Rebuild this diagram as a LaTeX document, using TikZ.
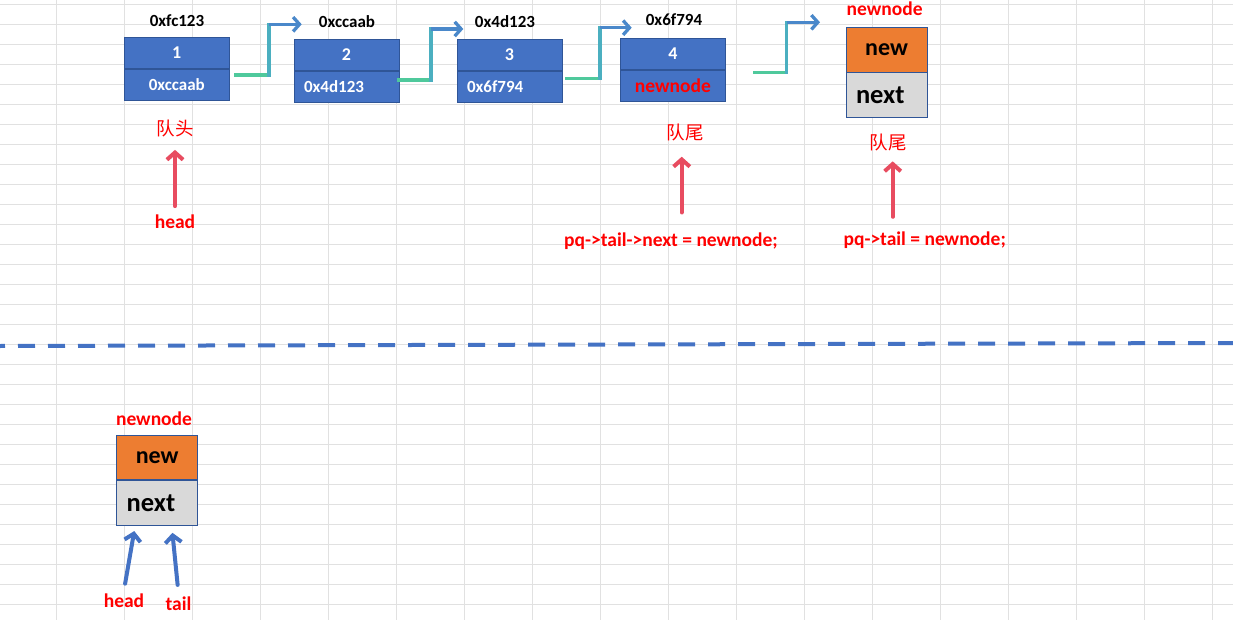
\documentclass[tikz,border=0pt]{standalone}
\usepackage{fontspec}
\setmainfont{Carlito}
\newfontfamily\cjkfont{Noto Sans CJK SC}
\usepackage{tikz}
\usetikzlibrary{arrows.meta, positioning, calc}
\definecolor{cellblue}{HTML}{4472C4}
\definecolor{celledge}{HTML}{2F5597}
\definecolor{neworange}{HTML}{ED7D31}
\definecolor{nextgray}{HTML}{D9D9D9}
\definecolor{gridgray}{HTML}{E1E1E1}
\definecolor{labelred}{HTML}{FF0000}
\definecolor{pointred}{HTML}{E84C60}
\definecolor{linkgreen}{HTML}{4FC99C}
\definecolor{linkteal}{HTML}{4BAFC0}
\definecolor{linkblue}{HTML}{4A88CA}

\begin{document}
\begin{tikzpicture}[
    x=1pt, y=-1pt,
    val/.style={rectangle, draw=celledge, line width=0.8pt, fill=cellblue, text=white,
                font=\bfseries\fontsize{18}{18}\selectfont,
                minimum width=105pt, minimum height=31pt, inner sep=0pt},
    ptr/.style={val, font=\bfseries\fontsize{17}{17}\selectfont},
    ptrleft/.style={ptr, inner xsep=10pt, text width=85pt, align=left},
    fresh/.style={val, fill=neworange, text=black, font=\bfseries\fontsize{24}{24}\selectfont,
                  minimum width=81pt, minimum height=44.5pt},
    freshnext/.style={fresh, fill=nextgray, font=\bfseries\fontsize{26.5}{26.5}\selectfont,
                      inner xsep=10pt, text width=61pt, align=left},
    addr/.style={anchor=base, font=\bfseries\fontsize{17}{17}\selectfont},
    tag/.style={anchor=base, text=labelred, font=\bfseries\fontsize{19.5}{19.5}\selectfont},
    cn/.style={text=labelred, font=\cjkfont\fontsize{18.5}{18.5}\selectfont},
    link/.style={line width=3.3pt, line cap=rect},
    linktip/.style={-{Straight Barb[length=4pt, width=9pt, scale=1.6]}},
    redptr/.style={draw=pointred, line width=4pt, line cap=round,
                   -{Straight Barb[length=4pt, width=9pt, scale=1.8]}},
    blueptr/.style={redptr, draw=cellblue},
    gridline/.style={draw=gridgray, line width=1pt},
    sepline/.style={draw=cellblue, line width=4pt, dash pattern=on 17pt off 13pt, dash phase=12pt}
]
\fill[white] (0,0) rectangle (1233,620);
\useasboundingbox (0,0) rectangle (1233,620);

% sheet grid
\foreach \k in {0,...,17}
    \draw[gridline] (56.7+68*\k,0) -- (56.7+68*\k,620);
\foreach \k in {0,...,30}
    \draw[gridline] (0,4.3+20*\k) -- (1233,4.3+20*\k);

% queue nodes
\node[val] (v1) at (176.8,52.8) {1};
\node[ptr, below=0pt of v1] (p1) {0xccaab};
\node[val] (v2) at (346.5,54.8) {2};
\node[ptrleft, below=0pt of v2] (p2) {0x4d123};
\node[val] (v3) at (509.5,54.8) {3};
\node[ptrleft, below=0pt of v3] (p3) {0x6f794};
\node[val] (v4) at (672.9,53.8) {4};
\node[ptr, text=labelred, font=\bfseries\fontsize{19.5}{19.5}\selectfont, below=0pt of v4] (p4) {newnode};

% addresses
\node[addr] (a1) at (177,26.7) {0xfc123};
\node[addr] (a2) at (347,27.7) {0xccaab};
\node[addr] (a3) at (505,27.3) {0x4d123};
\node[addr] (a4) at (674,25.3) {0x6f794};

% links
\foreach \n/\sx/\sy/\kx/\ex/\ey in {1/235.7/75/269/301.7/24.3, 2/399/80/431/463.3/29,
                                    3/566.7/78.3/600/631.7/27.7, 4/754.3/72.7/786.7/820/22.3}{
    \coordinate (ls\n) at (\sx,\sy);
    \coordinate (le\n) at (\ex,\ey);
    \draw[link, linkgreen] (ls\n) -- (\kx,\sy);
    \draw[link, linkteal] (\kx,\sy) -- (\kx,\ey);
    \draw[link, linkblue, linktip, line cap=butt] (\kx,\ey) -- (le\n);
}

% new node, top right
\node[fresh] (nv) at (886.5,49.7) {new};
\node[freshnext, below=0pt of nv] (nn) {next};
\node[tag] (nt) at (884.7,16) {newnode};

% head / tail marks
\node[cn] (qh) at (175,128.3) {队头};
\node[tag] (hd) at (175,228.3) {head};
\draw[redptr, shorten <=5pt, shorten >=9.5pt] (hd.north) -- (qh.south);

\node[cn] (qt) at (685,132.7) {队尾};
\node[tag] (pq) at (671,246.7) {pq->tail->next = newnode;};
\coordinate (t2) at ($(qt.south)+(-3.3,0)$);
\draw[redptr, shorten <=17pt, shorten >=12pt] (t2 |- pq.north) -- (t2);

\node[cn] (qt2) at (888,142.3) {队尾};
\node[tag] (pt) at (924.7,246) {pq->tail = newnode;};
\coordinate (t3) at ($(qt2.south)+(4.7,0)$);
\draw[redptr, shorten <=12pt, shorten >=7pt] (t3 |- pt.north) -- (t3);

% separator
\draw[sepline] (0,346) -- (1233,343);

% new node, alone
\node[fresh] (bv) at (157.2,457.5) {new};
\node[freshnext, below=0pt of bv] (bn) {next};
\node[tag] (bt) at (154,425) {newnode};
\node[tag] (hb) at (124,607.3) {head};
\node[tag] (tb) at (178.5,610.7) {tail};
\draw[blueptr, shorten <=6.5pt, shorten >=5.7pt] (hb.north) -- ([xshift=-22pt]bn.south);
\draw[blueptr, shorten <=8.6pt, shorten >=7.4pt] (tb.north) -- ([xshift=14.5pt]bn.south);

\end{tikzpicture}
\end{document}
